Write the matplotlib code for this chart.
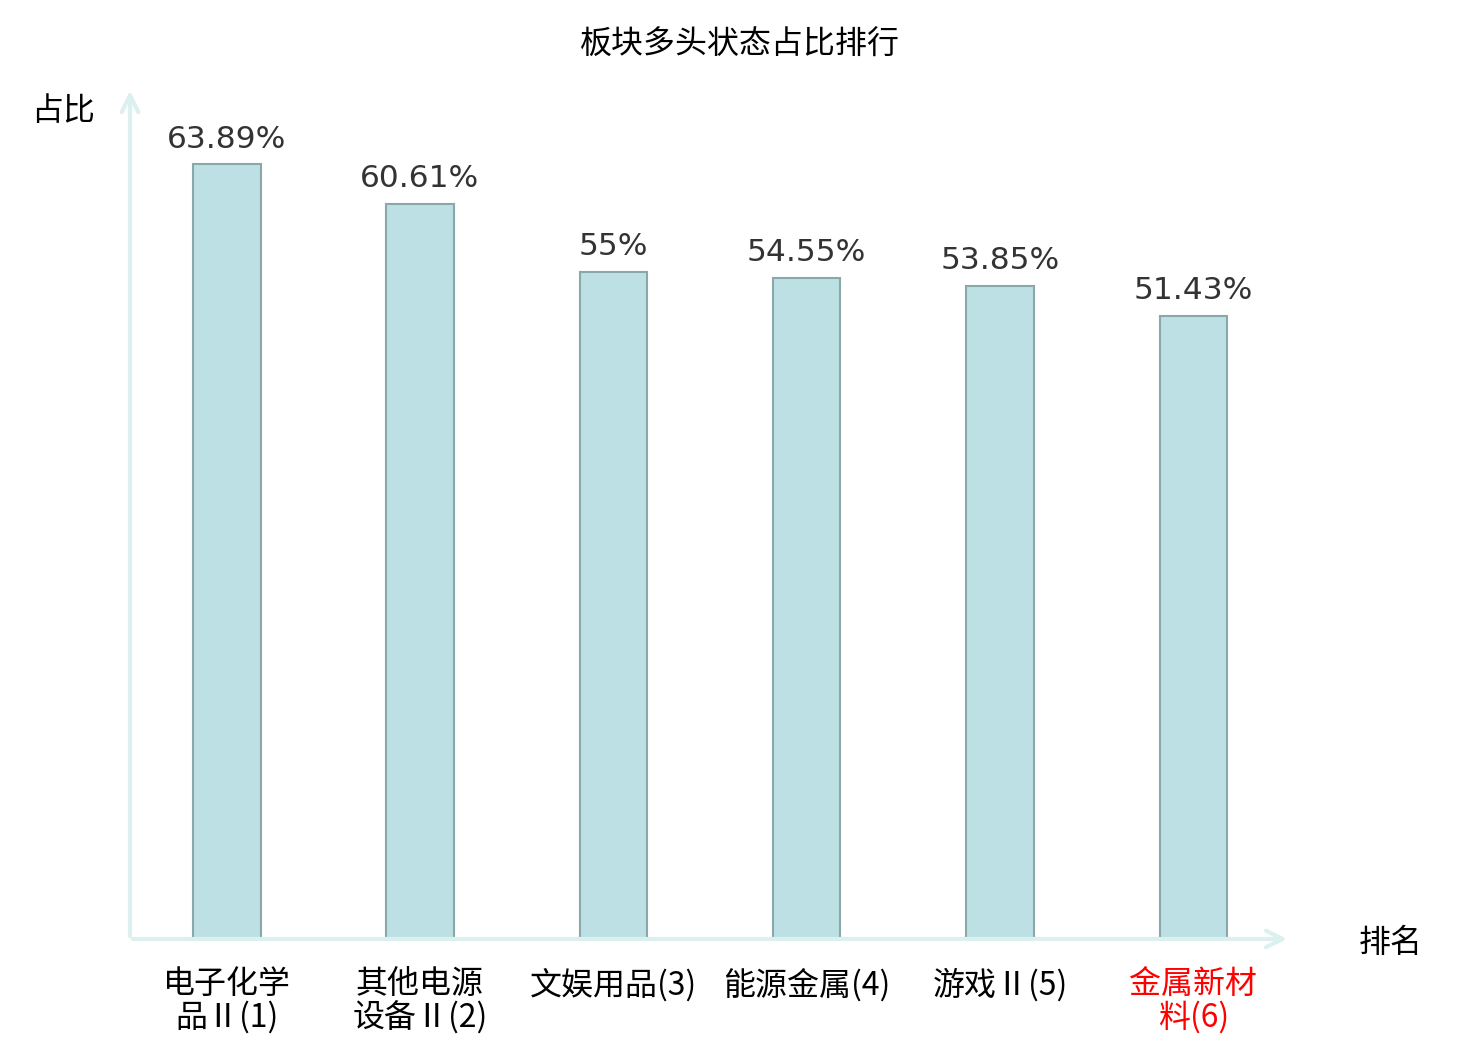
import numpy as np
import matplotlib
matplotlib.use('Agg')
from matplotlib import pyplot as plt

plt.rcParams['font.family'] = ['Noto Sans CJK SC', 'DejaVu Sans']

categories = ['电子化学\n品Ⅱ(1)', '其他电源\n设备Ⅱ(2)', '文娱用品(3)', '能源金属(4)', '游戏Ⅱ(5)', '金属新材\n料(6)']
values = [63.89, 60.61, 55, 54.55, 53.85, 51.43]
value_labels = ['63.89%', '60.61%', '55%', '54.55%', '53.85%', '51.43%']
label_colors = ['black', 'black', 'black', 'black', 'black', 'red']

axis_color = '#dcf1ef'

fig = plt.figure(figsize=(14.8, 10.4), dpi=100)
ax = fig.add_axes([130 / 1480, 101 / 1040, 1160 / 1480, 851 / 1040])

x = np.arange(len(values))
ax.bar(x, values, width=0.35, color='#bce0e3', edgecolor='#8aa8aa', linewidth=1.5, zorder=2)

for xi, v, lab in zip(x, values, value_labels):
    ax.text(xi, v + 0.9, lab, ha='center', va='bottom', fontsize=22.5,
            color='#333333', family='DejaVu Sans')

ax.set_xlim(-0.5, 5.5)
ax.set_ylim(0, 70.2)
for s in ax.spines.values():
    s.set_visible(False)
ax.set_xticks([])
ax.set_yticks([])

# axes as arrows
ax.annotate('', xy=(1.0, 0), xytext=(0, 0), xycoords='axes fraction',
            arrowprops=dict(arrowstyle='->', color=axis_color, lw=3, mutation_scale=30))
ax.annotate('', xy=(0, 1.0), xytext=(0, 0), xycoords='axes fraction',
            arrowprops=dict(arrowstyle='->', color=axis_color, lw=3, mutation_scale=30))

for xi, cat, c in zip(x, categories, label_colors):
    ax.text(xi, -2.4, cat, ha='center', va='top', fontsize=23, color=c, linespacing=1.05)

fig.text(740 / 1480, 1 - 45 / 1040, '板块多头状态占比排行', ha='center', va='center', fontsize=23)
fig.text(63 / 1480, 1 - 111 / 1040, '占比', ha='center', va='center', fontsize=23)
fig.text(1391 / 1480, 1 - 943 / 1040, '排名', ha='center', va='center', fontsize=23)

plt.savefig('out.png', dpi=100)
